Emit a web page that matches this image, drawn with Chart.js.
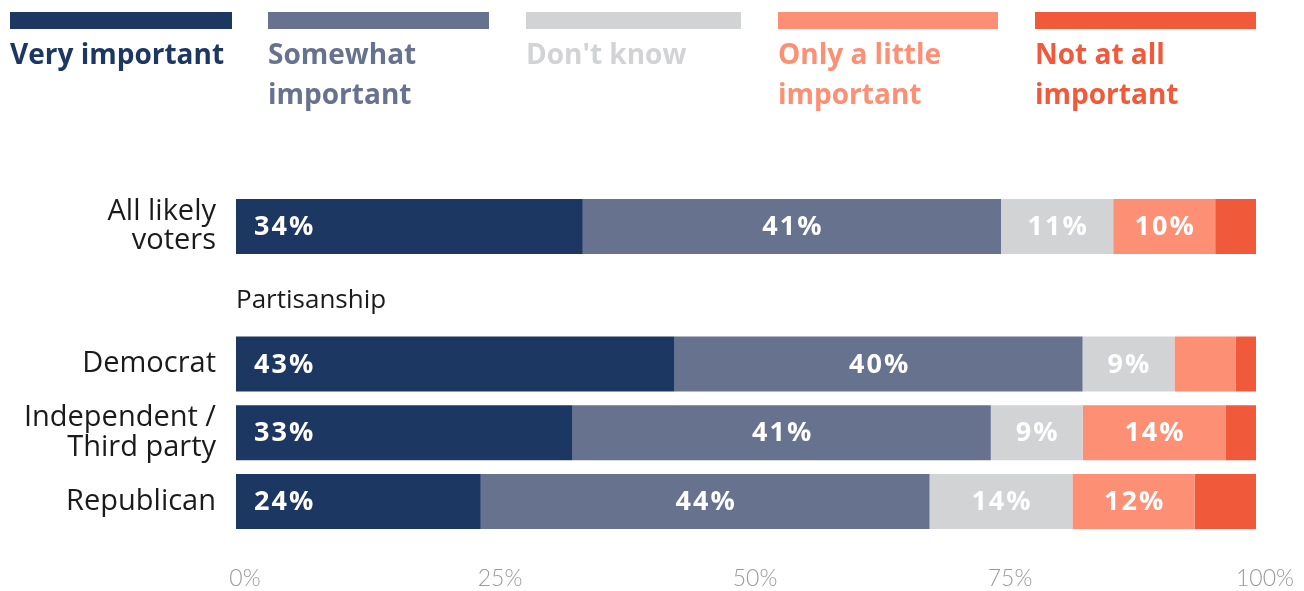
<!DOCTYPE html>
<html lang="en">
<head>
<meta charset="UTF-8">
<title>How important</title>
<script src="https://cdn.jsdelivr.net/npm/chart.js"></script>
<style>
  body { margin: 0; background: #fff; font-family: "Open Sans", sans-serif; }
  .wrap { position: relative; width: 1304px; height: 591px; overflow: hidden; }
  canvas { position: absolute; top: 0; left: 0; }
  .legenda .item { position: absolute; top: 12px; }
  .legenda .cor { height: 17px; }
  .legenda .txt { margin-top: 4px; font-weight: 700; font-size: 28px; line-height: 40px; white-space: nowrap; }
</style>
</head>
<body>
<div class="wrap">
  <canvas id="grafico" width="1304" height="591"></canvas>
  <div class="legenda" id="legenda"></div>
</div>

<script>
// categorias (linha vazia = subtítulo "Partisanship")
const categorias = [['All likely', 'voters'], '', 'Democrat', ['Independent /', 'Third party'], 'Republican'];
const subtitulo = 'Partisanship';

const series = ['Very important', 'Somewhat important', "Don't know", 'Only a little important', 'Not at all important'];
const rotulosLegenda = ['Very important', 'Somewhat<br>important', "Don't know", 'Only a little<br>important', 'Not at all<br>important'];
const cores = ['#1d3763', '#67728f', '#d1d3d4', '#fd8f74', '#f05a3a'];

const muitoImportante = [34, null, 43, 33, 24];
const algoImportante = [41, null, 40, 41, 44];
const naoSabe = [11, null, 9, 9, 14];
const poucoImportante = [10, null, 6, 14, 12];
const nadaImportante = [4, null, 2, 3, 6];

const ticksX = [0, 25, 50, 75, 100];

// legenda em HTML: posição e largura de cada barrinha
const legendaX = [10, 268, 526, 778, 1035];
const legendaW = [222, 221, 215, 220, 221];

const legenda = document.getElementById('legenda');
series.forEach((s, i) => {
  const item = document.createElement('div');
  item.className = 'item';
  item.style.left = legendaX[i] + 'px';
  item.style.width = legendaW[i] + 'px';
  item.innerHTML = '<div class="cor" style="background:' + cores[i] + '"></div>' +
    '<div class="txt" style="color:' + cores[i] + '">' + rotulosLegenda[i] + '</div>';
  legenda.appendChild(item);
});

const valores = [muitoImportante, algoImportante, naoSabe, poucoImportante, nadaImportante];

// rótulos de porcentagem dentro das barras + subtítulo
const rotulos = {
  id: 'rotulos',
  afterDatasetsDraw(chart) {
    const ctx = chart.ctx;
    ctx.save();
    ctx.font = 'bold 27px "Open Sans"';
    ctx.letterSpacing = '2px';
    ctx.fillStyle = '#ffffff';
    ctx.textBaseline = 'middle';
    chart.data.datasets.forEach((ds, i) => {
      chart.getDatasetMeta(i).data.forEach((bar, j) => {
        const v = ds.data[j];
        if (v == null || v < 8) return;
        const txt = v + '%';
        if (i === 0) {
          ctx.textAlign = 'left';
          ctx.fillText(txt, bar.base + 18, bar.y + 1);
        } else {
          ctx.textAlign = 'center';
          ctx.fillText(txt, (bar.x + bar.base) / 2 + 1, bar.y + 1);
        }
      });
    });

    const y = chart.scales.y.getPixelForValue(1);
    ctx.letterSpacing = '0px';
    ctx.font = '26px "Open Sans"';
    ctx.fillStyle = '#1a1a1a';
    ctx.textAlign = 'left';
    ctx.fillText(subtitulo, chart.chartArea.left, y + 5);
    ctx.restore();
  }
};

new Chart(document.getElementById('grafico'), {
  type: 'bar',
  data: {
    labels: categorias,
    datasets: series.map((s, i) => ({
      label: s,
      data: valores[i],
      backgroundColor: cores[i],
      borderWidth: 0,
      barPercentage: 0.8,
      categoryPercentage: 1
    }))
  },
  options: {
    indexAxis: 'y',
    responsive: false,
    animation: false,
    layout: { padding: { top: 192, right: 48, left: 0, bottom: 0 } },
    plugins: {
      legend: { display: false },
      tooltip: { enabled: false }
    },
    scales: {
      x: {
        stacked: true,
        min: 0,
        max: 100,
        afterFit: (scale) => {
          scale.height = 55;
          scale.paddingLeft = 0;
          scale.paddingRight = 0;
        },
        afterBuildTicks: (scale) => { scale.ticks = ticksX.map(v => ({ value: v })); },
        grid: { display: false, drawTicks: false },
        border: { display: false },
        ticks: {
          padding: 29,
          labelOffset: 9,
          color: '#9a9a9a',
          font: { family: 'Lato', size: 23, weight: 300 },
          callback: (v) => v + '%'
        }
      },
      y: {
        stacked: true,
        afterFit: (scale) => { scale.width = 236; },
        grid: { display: false, drawTicks: false },
        border: { display: false },
        ticks: {
          padding: 20,
          color: '#1a1a1a',
          font: { family: 'Open Sans', size: 29, lineHeight: 1.02 }
        }
      }
    }
  },
  plugins: [rotulos]
});
</script>
</body>
</html>
